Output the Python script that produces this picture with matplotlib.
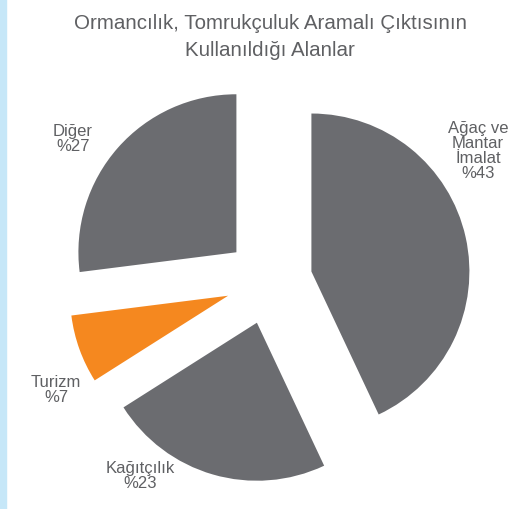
import matplotlib
matplotlib.use("Agg")
import matplotlib.pyplot as plt
from matplotlib.patches import Rectangle

plt.rcParams['font.family'] = ['Liberation Sans', 'DejaVu Sans']

# data, clockwise from 12 o'clock
sectors = ["Ağaç ve\nMantar\nİmalat", "Kağıtçılık", "Turizm", "Diğer"]
shares = [43, 23, 7, 27]
title = "Ormancılık, Tomrukçuluk Aramalı Çıktısının\nKullanıldığı Alanlar"

GRAY = '#6b6c70'
ORANGE = '#f5881f'
TEXT = '#5f6063'
STRIP = '#c6e7f8'
colors = [GRAY, GRAY, ORANGE, GRAY]

W_PX, H_PX, DPI = 528, 510, 100
R_PX = 158.0          # pie radius in pixels
CX, CY = 269.0, 282.0  # pie centre in pixels (from top-left)

# label centres, in pie radii relative to the centre
label_pos = [(1.323, 0.829), (-0.816, -1.228), (-1.348, -0.684), (-1.241, 0.905)]

fig = plt.figure(figsize=(W_PX / DPI, H_PX / DPI), dpi=DPI)
ax = fig.add_axes([0, 0, 1, 1])

ax.pie(shares, colors=colors, startangle=90, counterclock=False,
       explode=[0.275] * len(shares), radius=1.0,
       wedgeprops=dict(linewidth=0))

ax.set_xlim(-CX / R_PX, (W_PX - CX) / R_PX)
ax.set_ylim(-(H_PX - CY) / R_PX, CY / R_PX)
ax.axis('off')

for name, val, (lx, ly) in zip(sectors, shares, label_pos):
    ax.text(lx, ly, f"{name}\n%{val}", ha='center', va='center',
            fontsize=12, color=TEXT, linespacing=0.98)

fig.text(0.512, 1 - 37 / H_PX, title, ha='center', va='center',
         fontsize=14.8, color=TEXT, linespacing=1.5)

fig.patches.append(Rectangle((0, 0), 6 / W_PX, 1, transform=fig.transFigure,
                             color=STRIP, zorder=0))

fig.savefig("out.png", dpi=DPI)
